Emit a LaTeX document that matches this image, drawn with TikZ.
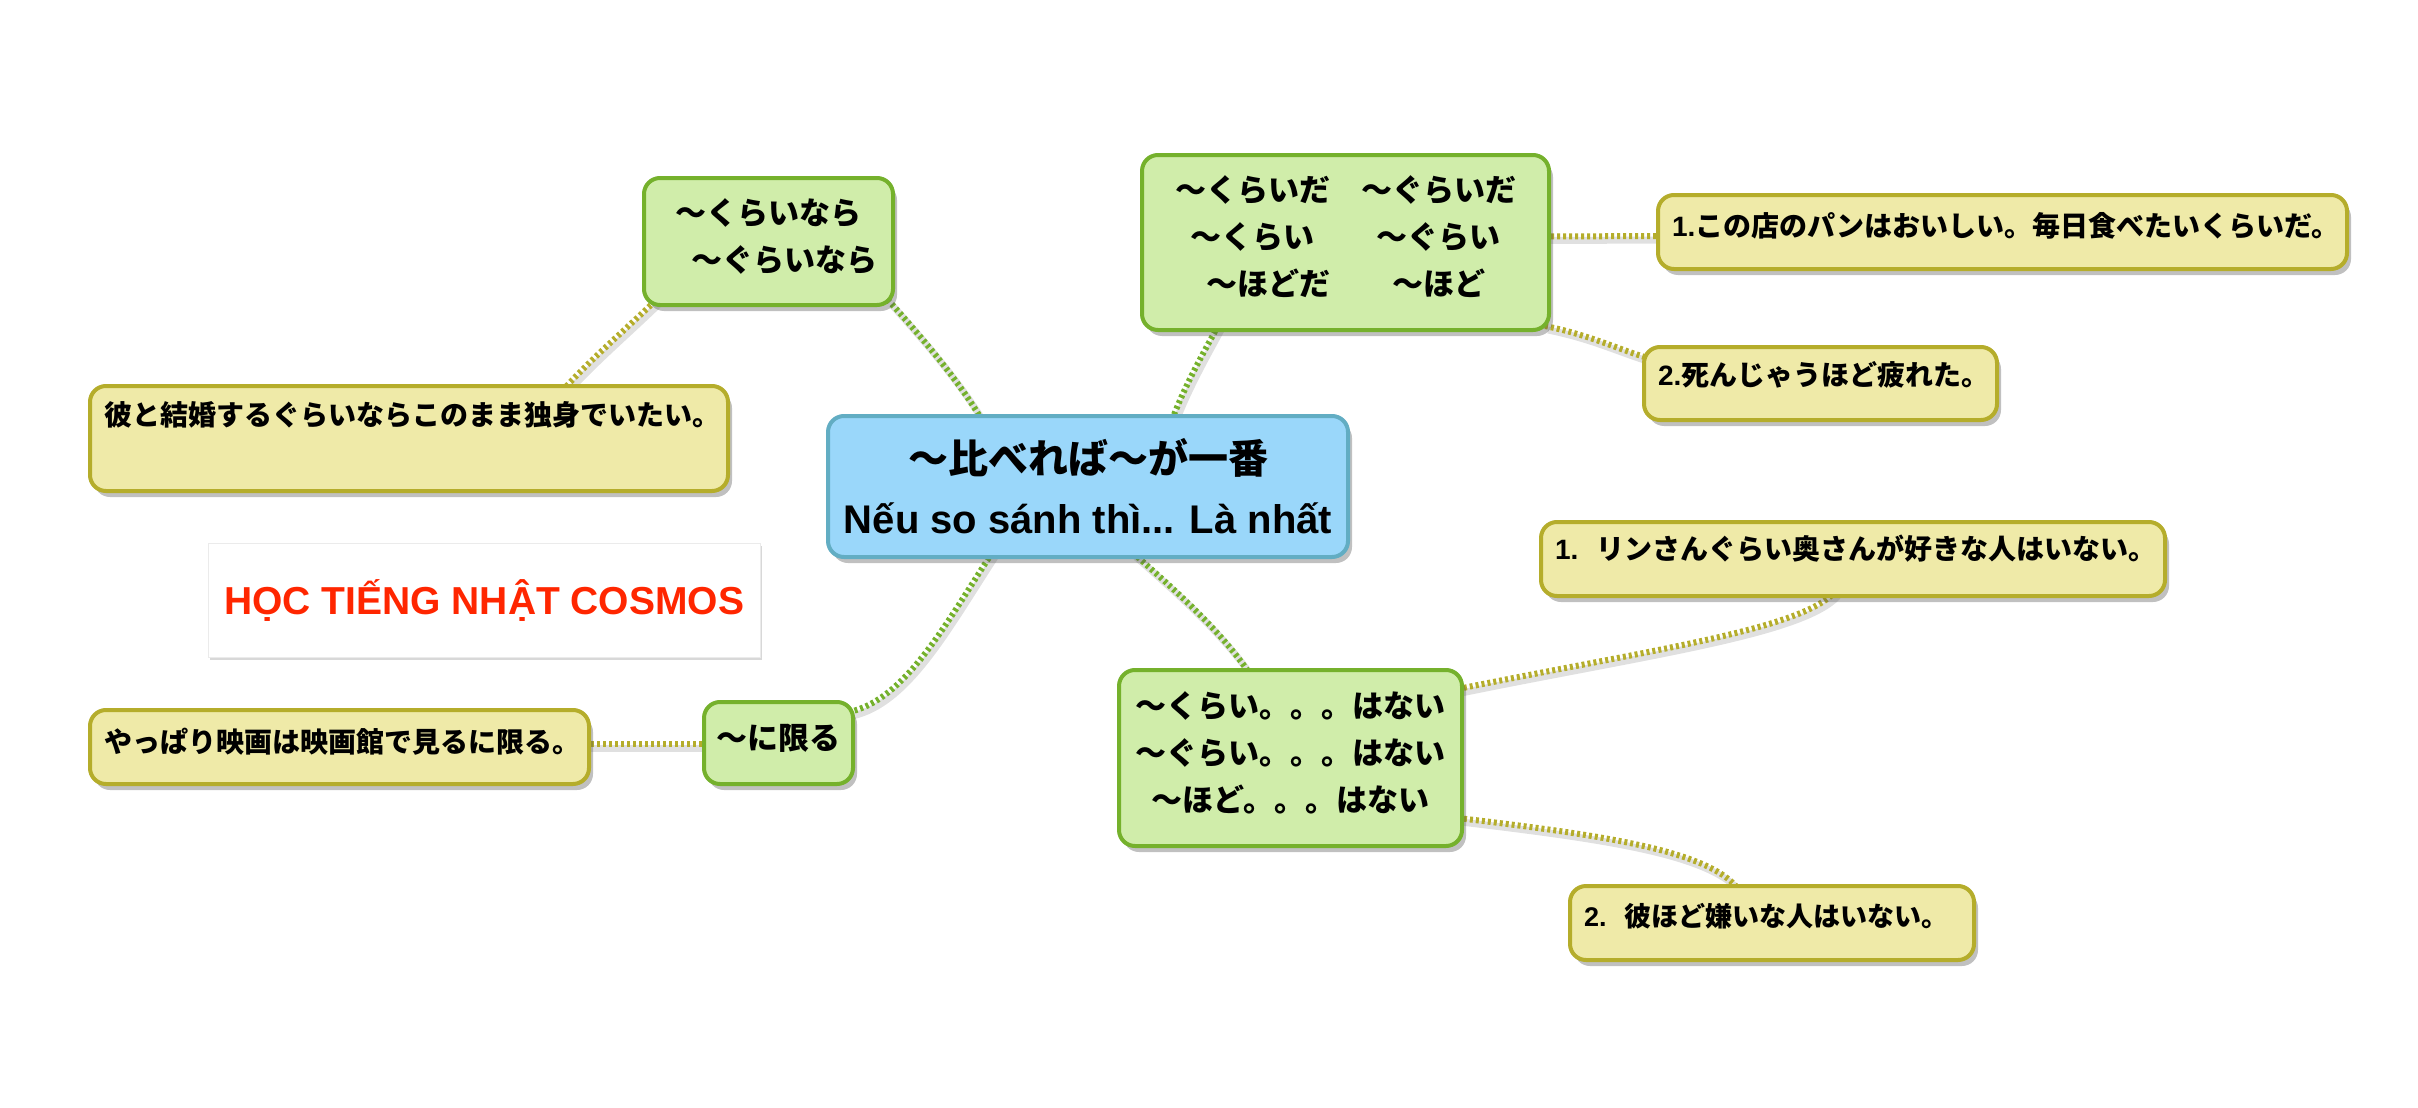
\documentclass[tikz,border=0pt]{standalone}
\usepackage{fontspec}
\setmainfont{Liberation Sans}
\newfontfamily\jp{Noto Sans CJK JP}
\usetikzlibrary{shadows,calc}
\definecolor{cfill}{HTML}{9AD7FA}
\definecolor{cline}{HTML}{62ADC3}
\definecolor{gfill}{HTML}{D0EDAA}
\definecolor{glin}{HTML}{75B12C}
\definecolor{yfill}{HTML}{EFEAA8}
\definecolor{ylin}{HTML}{B5AD2B}
\definecolor{cosred}{HTML}{FF2600}
\pgfdeclarelayer{back}
\pgfdeclarelayer{bg}
\pgfsetlayers{back,bg,main}
\newcommand\gtext[1]{\raisebox{3pt}[\height][\depth]{\begin{tabular}{@{}c@{}}#1\end{tabular}}}
\begin{document}
\begin{tikzpicture}[x=1pt,y=-1pt,
  shad/.style={drop shadow={shadow xshift=4pt,shadow yshift=-6pt,opacity=0.35,fill=black!70}},
  box/.style={rounded corners=16pt, line width=4pt, shad, inner sep=0pt, anchor=north west},
  mainbox/.style={box, draw=cline, fill=cfill, minimum width=520pt, minimum height=141pt,
    align=center, font=\bfseries\fontsize{40}{60}\selectfont},
  greenbox/.style={box, draw=glin, fill=gfill,
    font=\jp\bfseries\fontsize{31}{47}\selectfont},
  yelbox/.style={box, draw=ylin, fill=yfill, align=left, inner xsep=14pt, inner ysep=0pt,
    font=\jp\bfseries\fontsize{28}{32}\selectfont},
  conshadow/.style={preaction={draw=black, draw opacity=0.12, line width=7pt, solid,
    transform canvas={xshift=3pt,yshift=-4pt}}},
  gcon/.style={conshadow, draw=glin, line width=6pt, dash pattern=on 3pt off 3pt},
  ycon/.style={conshadow, draw=ylin, line width=6pt, dash pattern=on 3pt off 3pt},
]
\begin{pgfonlayer}{back}
\fill[white] (0,0) rectangle (2418,1108);
\end{pgfonlayer}
\useasboundingbox (0,0) rectangle (2418,1108);

% central
\node[mainbox] (c) at (826,414) {{\jp 〜比べれば〜が一番}\\Nếu so sánh thì... Là nhất};

% green nodes
\node[greenbox, minimum width=249pt, minimum height=127pt] (kn) at (642,176)
  {\gtext{〜くらいなら\\　〜ぐらいなら}};
\node[greenbox, minimum width=407pt, minimum height=175pt] (kd) at (1140,153)
  {\gtext{〜くらいだ　〜ぐらいだ\\〜くらい　　〜ぐらい\\〜ほどだ　　〜ほど}};
\node[greenbox, minimum width=343pt, minimum height=176pt] (kh) at (1117,668)
  {\gtext{〜くらい。。。はない\\〜ぐらい。。。はない\\〜ほど。。。はない}};
\node[greenbox, minimum width=149pt, minimum height=82pt] (lim) at (702,700)
  {\gtext{〜に限る}};

% yellow example nodes
\node[yelbox, text width=661pt, text height=41pt, text depth=33pt] (t1) at (1656,193)
  {\mbox{{\rmfamily 1.}この店のパンはおいしい。毎日食べたいくらいだ。}};
\node[yelbox, text width=325pt, text height=38pt, text depth=35pt] (t2) at (1642,345)
  {\mbox{{\rmfamily 2.}死んじゃうほど疲れた。}};
\node[yelbox, text width=610pt, text height=39pt, text depth=66pt] (l1) at (88,384)
  {\mbox{彼と結婚するぐらいならこのまま独身でいたい。}};
\node[yelbox, text width=471pt, text height=42pt, text depth=32pt] (l2) at (88,708)
  {\mbox{やっぱり映画は映画館で見るに限る。}};
\node[yelbox, text width=596pt, text height=37pt, text depth=37pt] (b1) at (1539,520)
  {\mbox{{\rmfamily 1.}\hspace{18pt}リンさんぐらい奥さんが好きな人はいない。}};
\node[yelbox, text width=376pt, text height=40pt, text depth=34pt, font=\jp\bfseries\fontsize{27}{32}\selectfont] (b2) at (1568,884)
  {\mbox{{\rmfamily 2.}\hspace{18pt}彼ほど嫌いな人はいない。}};

% logo
\node[draw=black!8, fill=white, drop shadow={shadow xshift=2pt,shadow yshift=-3pt,opacity=0.25,fill=black!60},
  minimum width=552pt, minimum height=114pt, anchor=north west, text=cosred,
  font=\bfseries\fontsize{39}{47}\selectfont] (cos) at (208,543) {HỌC TIẾNG NHẬT COSMOS};

% connectors
\begin{pgfonlayer}{bg}
\draw[gcon] ($(c.north west)+(156,6)$) .. controls (955,375) and (915,330) .. ($(kn.south east)+(-6,-6)$);
\draw[gcon] ($(c.north west)+(346,6)$) .. controls (1185,385) and (1205,350) .. ($(kd.south west)+(78,-6)$);
\draw[gcon] ($(c.south west)+(166,-6)$) .. controls (945,625) and (905,700) .. ($(lim.north east)+(-6,12)$);
\draw[gcon] ($(c.south west)+(307,-6)$) .. controls (1175,590) and (1220,630) .. ($(kh.north west)+(133,6)$);
\draw[ycon] ($(kn.south west)+(13,-6)$) .. controls (625,330) and (590,360) .. ($(l1.north west)+(475,6)$);
\draw[ycon] ($(lim.west)+(6,1)$) -- ($(l2.east)+(-6,-3)$);
\draw[ycon] ($(kd.east)+(-6,-6)$) -- ($(t1.west)+(6,4)$);
\draw[ycon] ($(kd.south east)+(-6,-6)$) .. controls (1590,335) and (1620,350) .. ($(t2.north west)+(6,13)$);
\draw[ycon] ($(kh.north east)+(-6,21)$) .. controls (1650,650) and (1800,630) .. ($(b1.south west)+(296,-6)$);
\draw[ycon] ($(kh.south east)+(-6,-30)$) .. controls (1600,835) and (1710,850) .. ($(b2.north west)+(171,6)$);
\end{pgfonlayer}
\end{tikzpicture}
\end{document}
